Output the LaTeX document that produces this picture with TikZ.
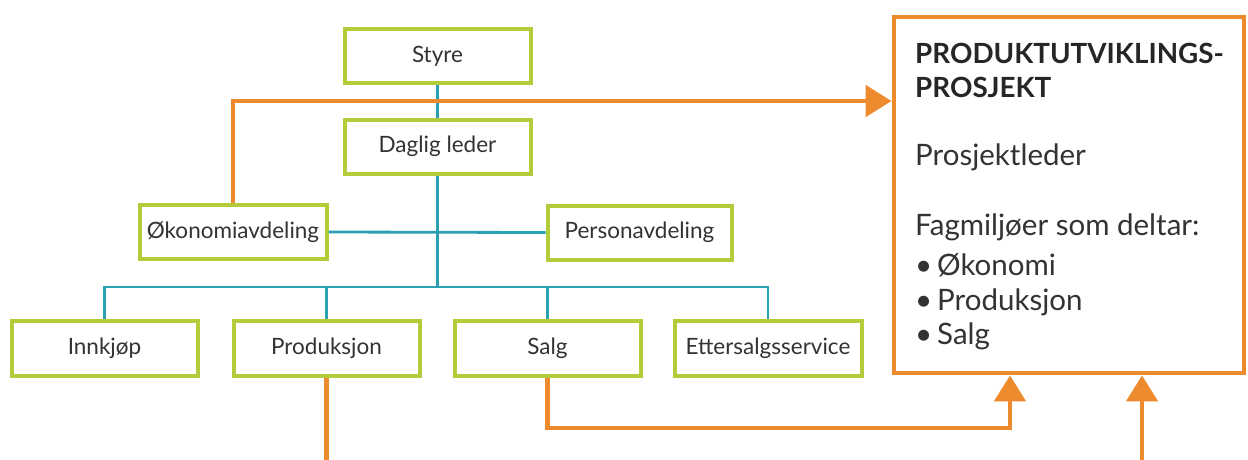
\documentclass[tikz,border=0pt]{standalone}
\usepackage{fontspec}
\setmainfont{Lato}
\usetikzlibrary{arrows.meta}
\definecolor{limeG}{HTML}{B3CD3A}
\definecolor{tealL}{HTML}{2AA0B2}
\definecolor{orng}{HTML}{EE8A2E}
\definecolor{txt}{HTML}{333333}
\begin{document}
\begin{tikzpicture}[x=1pt,y=-1pt,
  org/.style={draw=limeG, line width=4pt, fill=white, minimum width=186pt, minimum height=54pt, inner sep=0pt, font=\fontsize{22.5}{26}\selectfont, text=txt},
  tline/.style={draw=tealL, line width=2.8pt},
  oline/.style={draw=orng, line width=4.8pt},
  oarrow/.style={oline, -{Triangle[length=26pt,width=31pt]}},
  ptxt/.style={anchor=base west, inner sep=0pt, text=txt, font=\fontsize{29.5}{34}\selectfont},
  htxt/.style={anchor=base west, inner sep=0pt, text=black!85, font=\fontsize{27.8}{34}\selectfont\bfseries},
]
\fill[white] (0,0) rectangle (1248,459);
\useasboundingbox (0,0) rectangle (1248,459);
% org boxes
\node[org] (styre) at (437.5,56) {Styre};
\node[org] (daglig) at (437.5,146.5) {Daglig leder};
\node[org, minimum width=187pt] (okon) at (233,232) {Økonomiavdeling};
\node[org, minimum width=184pt] (person) at (639.5,232.5) {Personavdeling};
\node[org, minimum height=55pt] (innk) at (104.5,348) {Innkjøp};
\node[org, minimum height=55pt] (prod) at (326.5,348) {Produksjon};
\node[org, minimum height=55pt] (salg) at (547.5,348) {Salg};
\node[org, minimum height=55pt, minimum width=187pt] (etter) at (768,348) {Ettersalgsservice};
% project box
\node[draw=orng, line width=4.8pt, fill=white, minimum width=350pt, minimum height=356pt, inner sep=0pt] (proj) at (1069,195) {};
\node[htxt] (h1) at (915,63) {PRODUKTUTVIKLINGS-};
\node[htxt] (h2) at (915,97) {PROSJEKT};
\node[ptxt] (pl) at (915,165) {Prosjektleder};
\node[ptxt] (fm) at (915,235) {Fagmiljøer som deltar:};
\node[ptxt] (b1) at (915,275) {•\,Økonomi};
\node[ptxt] (b2) at (915,310) {•\,Produksjon};
\node[ptxt] (b3) at (915,344) {•\,Salg};
% teal connectors
\coordinate (bus) at (437.5,287);
\draw[tline] (styre.south) -- (daglig.north);
\draw[tline] (daglig.south) -- (bus);
\draw[tline] (okon.east) -- (person.west);
\draw[tline] (innk.north) |- (bus) -| (etter.north);
\draw[tline] (prod.north) -- (prod.north |- bus);
\draw[tline] (salg.north) -- (salg.north |- bus);
% orange connectors
\coordinate (ay) at (0,101);
\coordinate (bot) at (0,464);
\coordinate (sturn) at (1010,428);
\coordinate (pin) at (1142,464);
\draw[oarrow] (okon.north) |- (proj.west |- ay);
\draw[oline] (prod.south) -- (prod.south |- bot);
\draw[oarrow] (salg.south) |- (sturn) -- (sturn |- proj.south);
\draw[oarrow] (pin) -- (pin |- proj.south);
\end{tikzpicture}
\end{document}
